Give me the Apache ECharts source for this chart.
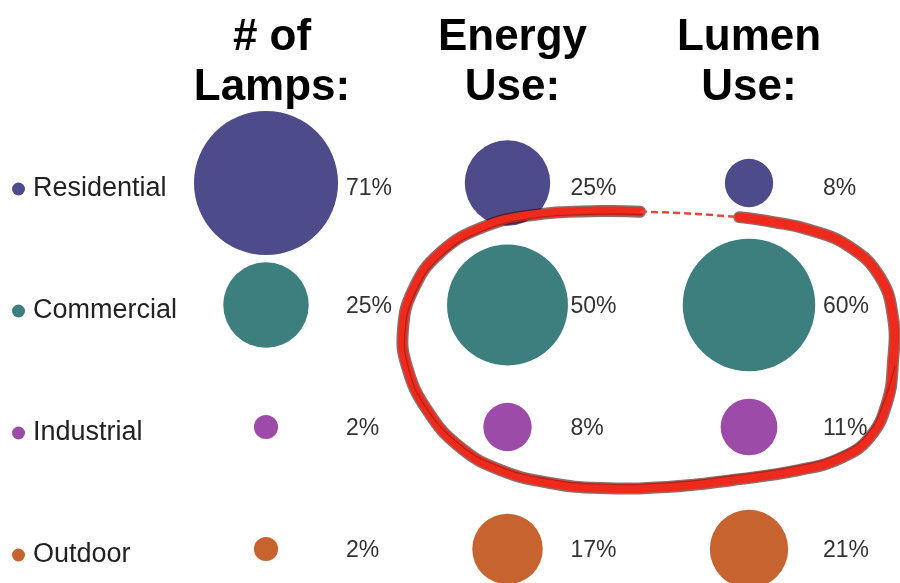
<!DOCTYPE html>
<html>
<head>
<meta charset="utf-8">
<script src="https://cdn.jsdelivr.net/npm/echarts@6/dist/echarts.min.js"></script>
<style>
  html, body { margin: 0; padding: 0; background: #fff; }
  #chart { width: 900px; height: 583px; }
</style>
</head>
<body>
<div id="chart"></div>
<script>
// Lighting market shares by sector (percent)
const sectors = ['Residential', 'Commercial', 'Industrial', 'Outdoor'];
const measures = [['# of', 'Lamps:'], ['Energy', 'Use:'], ['Lumen', 'Use:']];
const lampShare = [71, 25, 2, 2];
const energyShare = [25, 50, 8, 17];
const lumenShare = [8, 60, 11, 21];

const sectorColors = ['#4e4b8b', '#3d7e7e', '#9d4ba8', '#c6632f'];
const FONT = '"Liberation Sans", Arial, sans-serif';
// bubble area proportional to the share
const AREA_K = 17.1;
// horizontal gap from bubble centre to its percentage text, per column
const labelDx = [80, 63, 74];
// small horizontal nudge of each column heading
const headingShift = [12, 10, 0];

// hand-drawn highlight loop around Commercial/Industrial energy & lumen, in axis units
const loopPath = [
  [1.96, 0.28], [2.10, 0.32], [2.253, 0.385], [2.418, 0.525], [2.542, 0.770],
  [2.596, 1.098], [2.596, 1.475], [2.571, 1.803], [2.501, 2.082], [2.389, 2.246],
  [2.211, 2.352], [1.934, 2.434], [1.660, 2.492], [1.383, 2.500], [1.176, 2.459],
  [0.969, 2.352], [0.803, 2.164], [0.667, 1.861], [0.584, 1.508], [0.567, 1.205],
  [0.609, 0.877], [0.720, 0.574], [0.899, 0.361], [1.106, 0.262], [1.383, 0.230],
  [1.549, 0.235]
];
const loopGap = [[1.549, 0.235], [1.75, 0.25], [1.96, 0.28]];

const columns = [lampShare, energyShare, lumenShare];

const series = sectors.map((name, row) => ({
  name,
  type: 'scatter',
  itemStyle: { color: sectorColors[row], opacity: 1 },
  symbolSize: v => AREA_K * Math.sqrt(v[2]),
  data: columns.map((col, c) => ({
    value: [c, row, col[row]],
    label: { offset: [labelDx[c], row === 0 ? 6 : 2] }
  })),
  label: {
    show: true,
    position: 'inside',
    align: 'left',
    verticalAlign: 'middle',
    color: '#333',
    fontSize: 23,
    fontFamily: FONT,
    formatter: p => p.value[2] + '%'
  },
  emphasis: { disabled: true },
  z: 2
}));

const yRich = { t: { fontSize: 27, color: '#222', fontFamily: FONT, padding: [0, 0, 0, 8] } };
sectorColors.forEach((c, i) => {
  yRich['d' + i] = { width: 13, height: 13, borderRadius: 7, backgroundColor: c, verticalAlign: 'middle' };
});
const xRich = {};
headingShift.forEach((s, i) => {
  xRich['h' + i] = { fontSize: 44, fontWeight: 'bold', color: '#000', fontFamily: FONT, lineHeight: 50, padding: [0, 0, 0, s] };
});

const chart = echarts.init(document.getElementById('chart'), null, { renderer: 'canvas' });
chart.setOption({
  backgroundColor: '#fff',
  animation: false,
  grid: { left: 266, right: 151, top: 183, bottom: 34, outerBoundsMode: 'none' },
  xAxis: {
    type: 'value', min: 0, max: 2, interval: 1, position: 'top',
    axisLine: { show: false }, axisTick: { show: false }, splitLine: { show: false },
    axisLabel: {
      formatter: v => measures[v].map(s => '{h' + v + '|' + s + '}').join('\n'),
      rich: xRich,
      margin: 70
    }
  },
  yAxis: {
    type: 'value', min: 0, max: 3, interval: 1, inverse: true,
    axisLine: { show: false }, axisTick: { show: false }, splitLine: { show: false },
    axisLabel: {
      align: 'left', margin: 254, padding: [12, 0, 0, 0],
      formatter: v => '{d' + v + '|}{t|' + sectors[v] + '}',
      rich: yRich
    }
  },
  series
});

// draw the highlight loop on top of the bubbles
const toPx = pts => pts.map(p => chart.convertToPixel({ gridIndex: 0 }, p));
const ring = toPx(loopPath);
const gap = toPx(loopGap);
const inner = ring.map(([x, y]) => [x + (y > 380 ? -2 : 2), y + (y > 380 ? -4 : 3)]);
chart.setOption({
  graphic: [
    { type: 'polyline', z: 100, shape: { points: ring, smooth: 0.45 },
      style: { stroke: '#4a0a06', lineWidth: 12, fill: null, opacity: 0.6, lineCap: 'round', lineJoin: 'round' } },
    { type: 'polyline', z: 101, shape: { points: ring, smooth: 0.45 },
      style: { stroke: '#ee2a1c', lineWidth: 9, fill: null, lineCap: 'round', lineJoin: 'round' } },
    { type: 'polyline', z: 102, shape: { points: inner.slice(6), smooth: 0.45 },
      style: { stroke: '#8a1a12', lineWidth: 1.2, fill: null, opacity: 0.6 } },
    { type: 'polyline', z: 101, shape: { points: gap, smooth: 0.45 },
      style: { stroke: '#e8473a', lineWidth: 2.5, fill: null, lineDash: [7, 4] } }
  ]
});
</script>
</body>
</html>
